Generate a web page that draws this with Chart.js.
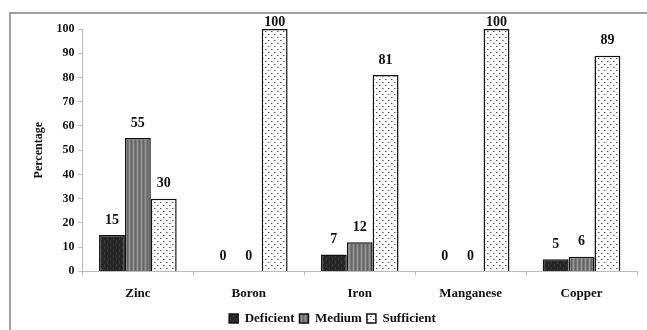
<html>
<head>
  <script src="https://cdn.jsdelivr.net/npm/chart.js@4.4.0/dist/chart.umd.min.js"></script>
  <style>
    body { margin: 0; background: #fff; overflow: hidden; }
    #wrap { width: 647px; height: 330px; overflow: hidden; }
  </style>
</head>
<body>
<div id="wrap"><canvas id="chart" width="647" height="335"></canvas></div>
<script>
  // nutrients and share of samples (%) in each class
  const nutrients = ['Zinc', 'Boron', 'Iron', 'Manganese', 'Copper'];
  const deficient = [15, 0, 7, 0, 5];
  const medium = [55, 0, 12, 0, 6];
  const sufficient = [30, 100, 81, 100, 89];
  const yTicks = [0, 10, 20, 30, 40, 50, 60, 70, 80, 90, 100];

  const serif = '"Liberation Serif", "Times New Roman", serif';

  function makePattern(w, h, draw) {
    const c = document.createElement('canvas');
    c.width = w; c.height = h;
    const g = c.getContext('2d');
    draw(g);
    return document.getElementById('chart').getContext('2d').createPattern(c, 'repeat');
  }

  // dark fill with faint streaks
  const darkFill = makePattern(6, 6, g => {
    g.fillStyle = '#262626'; g.fillRect(0, 0, 6, 6);
    g.fillStyle = '#3a3a3a'; g.fillRect(2, 0, 1, 3); g.fillRect(5, 3, 1, 3);
  });
  // gray fill with vertical stripes
  const grayFill = makePattern(4, 4, g => {
    g.fillStyle = '#7a7a7a'; g.fillRect(0, 0, 4, 4);
    g.fillStyle = '#959595'; g.fillRect(1, 0, 1, 4);
    g.fillStyle = '#666'; g.fillRect(3, 0, 1, 4);
  });
  // white fill with small dots
  const dotFill = makePattern(6, 6, g => {
    g.fillStyle = '#fff'; g.fillRect(0, 0, 6, 6);
    g.fillStyle = '#555'; g.fillRect(1, 1, 1, 1); g.fillRect(4, 4, 1, 1);
    g.fillStyle = '#aaa'; g.fillRect(2, 1, 1, 1); g.fillRect(5, 4, 1, 1);
  });

  const frame = {
    id: 'frame',
    beforeDraw(chart) {
      const ctx = chart.ctx;
      ctx.save();
      ctx.strokeStyle = '#a0a0a0';
      ctx.lineWidth = 2;
      ctx.beginPath();
      ctx.moveTo(647, 13); ctx.lineTo(10, 13); ctx.lineTo(10, 335);
      ctx.stroke();
      ctx.restore();
    }
  };

  const valueLabels = {
    id: 'valueLabels',
    afterDatasetsDraw(chart) {
      const ctx = chart.ctx;
      ctx.save();
      ctx.font = 'bold 14px ' + serif;
      ctx.fillStyle = '#111';
      ctx.textAlign = 'center';
      ctx.textBaseline = 'bottom';
      chart.data.datasets.forEach((ds, i) => {
        chart.getDatasetMeta(i).data.forEach((bar, j) => {
          ctx.fillText(ds.data[j], bar.x, Math.max(bar.y - 8, 29));
        });
      });
      ctx.restore();
    }
  };

  new Chart(document.getElementById('chart'), {
    type: 'bar',
    data: {
      labels: nutrients,
      datasets: [
        { label: 'Deficient', data: deficient, backgroundColor: darkFill },
        { label: 'Medium', data: medium, backgroundColor: grayFill },
        { label: 'Sufficient', data: sufficient, backgroundColor: dotFill }
      ]
    },
    options: {
      responsive: false,
      animation: false,
      layout: { padding: { left: 28, right: 10, top: 29, bottom: 0 } },
      datasets: {
        bar: { borderColor: '#111', borderWidth: 1.5, barPercentage: 1, categoryPercentage: 0.7 }
      },
      scales: {
        x: {
          afterFit: axis => { axis.height -= 4; },
          grid: { display: true, drawOnChartArea: false, offset: true, tickLength: 4, color: '#bbb' },
          border: { color: '#bbb', width: 1 },
          ticks: { color: '#111', font: { family: serif, weight: 'bold', size: 13 }, padding: 10 }
        },
        y: {
          min: 0, max: 100,
          afterBuildTicks: axis => { axis.ticks = yTicks.map(v => ({ value: v })); },
          grid: { display: true, drawOnChartArea: false, tickLength: 4, color: '#bbb' },
          border: { color: '#bbb', width: 1 },
          ticks: { color: '#111', font: { family: serif, weight: 'bold', size: 12 }, padding: 4 },
          title: { display: true, text: 'Percentage', color: '#111', font: { family: serif, weight: 'bold', size: 12 }, padding: { bottom: 6 } }
        }
      },
      plugins: {
        legend: {
          position: 'bottom',
          labels: {
            color: '#111', font: { family: serif, weight: 'bold', size: 13 },
            boxWidth: 9, boxHeight: 9, padding: 5
          }
        },
        tooltip: { enabled: false }
      }
    },
    plugins: [frame, valueLabels]
  });
</script>
</body>
</html>
